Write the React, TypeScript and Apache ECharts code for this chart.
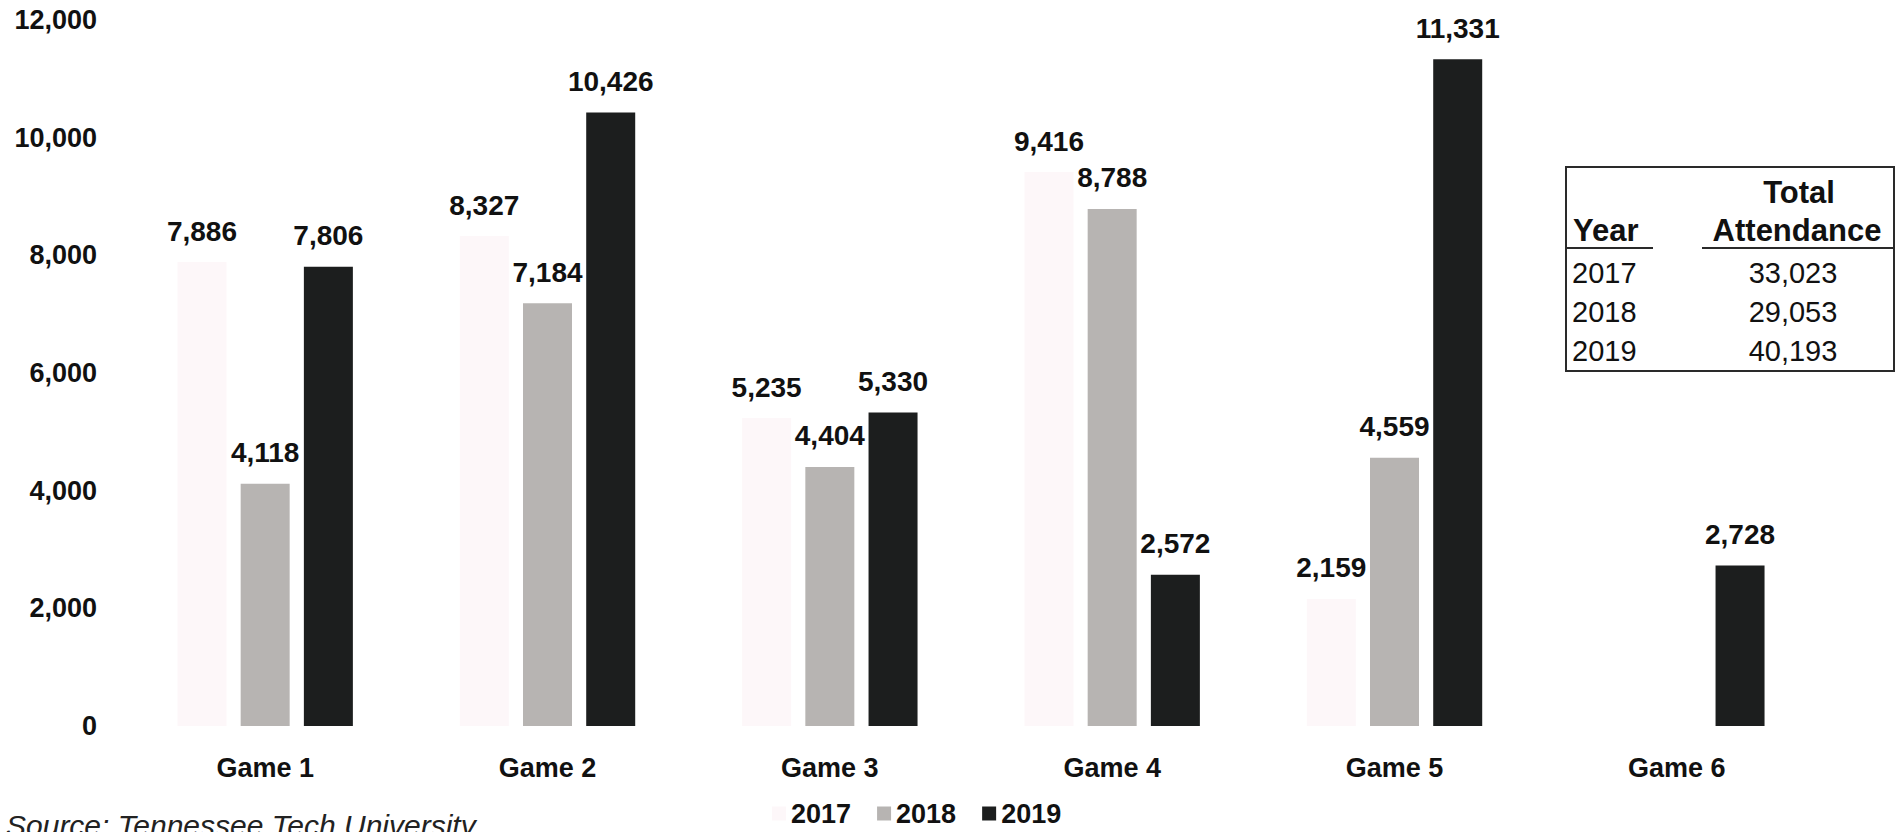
import React, { useEffect, useRef } from "react";
import * as echarts from "echarts";

const categories = ["Game 1", "Game 2", "Game 3", "Game 4", "Game 5", "Game 6"];
const years = ["2017", "2018", "2019"];
const values2017: (number | null)[] = [7886, 8327, 5235, 9416, 2159, null];
const values2018: (number | null)[] = [4118, 7184, 4404, 8788, 4559, null];
const values2019: (number | null)[] = [7806, 10426, 5330, 2572, 11331, 2728];
const yTicks = [0, 2000, 4000, 6000, 8000, 10000, 12000];
const tableYears = ["2017", "2018", "2019"];
const tableTotals = ["33,023", "29,053", "40,193"];
const sourceText = "Source: Tennessee Tech University";

const FONT = "'Liberation Sans', Arial, Helvetica, sans-serif";
const colors = ["#fdf7f9", "#b7b4b2", "#1c1e1e"];

const fmt = (v: number) => v.toLocaleString("en-US");

export default function App() {
  const ref = useRef<HTMLDivElement>(null);
  useEffect(() => {
    if (!ref.current) return;
    const chart = echarts.init(ref.current, undefined, { renderer: "svg" });
    const seriesData = [values2017, values2018, values2019];
    const tableX = 1566;
    const tableY = 167;
    const tableW = 328;
    const tableH = 204;
    const rowYs = [273, 312, 351];
    const graphic: any[] = [
      {
        type: "rect",
        shape: { x: tableX, y: tableY, width: tableW, height: tableH },
        style: { fill: "#fff", stroke: "#2a2a2a", lineWidth: 2 },
      },
      {
        type: "text",
        style: { text: "Total", x: 1799, y: 192, font: `bold 31px ${FONT}`, fill: "#111", align: "center", verticalAlign: "middle" },
      },
      {
        type: "text",
        style: { text: "Year", x: 1573, y: 230, font: `bold 31px ${FONT}`, fill: "#111", align: "left", verticalAlign: "middle" },
      },
      {
        type: "text",
        style: { text: "Attendance", x: 1797, y: 230, font: `bold 31px ${FONT}`, fill: "#111", align: "center", verticalAlign: "middle" },
      },
      {
        type: "line",
        shape: { x1: 1566, y1: 248, x2: 1653, y2: 248 },
        style: { stroke: "#2a2a2a", lineWidth: 2 },
      },
      {
        type: "line",
        shape: { x1: 1702, y1: 248, x2: 1893, y2: 248 },
        style: { stroke: "#2a2a2a", lineWidth: 2 },
      },
      {
        type: "text",
        style: { text: sourceText, x: 6, y: 810, font: `italic 30px ${FONT}`, fill: "#222", align: "left", verticalAlign: "top" },
      },
    ];
    tableYears.forEach((yr, i) => {
      graphic.push({
        type: "text",
        style: { text: yr, x: 1572, y: rowYs[i], font: `29px ${FONT}`, fill: "#111", align: "left", verticalAlign: "middle" },
      });
      graphic.push({
        type: "text",
        style: { text: tableTotals[i], x: 1793, y: rowYs[i], font: `29px ${FONT}`, fill: "#111", align: "center", verticalAlign: "middle" },
      });
    });

    chart.setOption({
      animation: false,
      backgroundColor: "#ffffff",
      grid: { left: 124, right: 82, top: 20, bottom: 106, containLabel: false },
      legend: {
        data: years,
        left: 772,
        top: 800,
        padding: 0,
        itemWidth: 14,
        itemHeight: 14,
        itemGap: 26,
        icon: "rect",
        textStyle: { fontFamily: FONT, fontWeight: "bold", fontSize: 27, color: "#111" },
      },
      xAxis: {
        type: "category",
        data: categories,
        axisLine: { show: false },
        axisTick: { show: false },
        splitLine: { show: false },
        axisLabel: { margin: 28, fontFamily: FONT, fontWeight: "bold", fontSize: 27, color: "#111" },
      },
      yAxis: {
        type: "value",
        min: yTicks[0],
        max: yTicks[yTicks.length - 1],
        interval: yTicks[1] - yTicks[0],
        axisLine: { show: false },
        axisTick: { show: false },
        splitLine: { show: false },
        axisLabel: {
          margin: 27,
          fontFamily: FONT,
          fontWeight: "bold",
          fontSize: 27,
          color: "#111",
          formatter: (v: number) => fmt(v),
        },
      },
      series: years.map((yr, i) => ({
        name: yr,
        type: "bar",
        data: seriesData[i],
        barWidth: 49,
        barGap: "29%",
        itemStyle: { color: colors[i] },
        label: {
          show: true,
          position: "top",
          distance: 17,
          fontFamily: FONT,
          fontWeight: "bold",
          fontSize: 28,
          lineHeight: 28,
          color: "#111",
          formatter: (p: any) => (p.value == null ? "" : fmt(p.value)),
        },
      })),
      graphic,
    });
    return () => chart.dispose();
  }, []);
  return <div ref={ref} style={{ width: 1900, height: 832, position: "absolute", left: 0, top: 0 }} />;
}
